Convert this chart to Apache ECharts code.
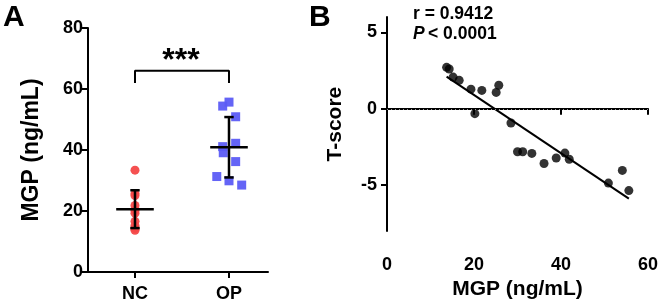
<!DOCTYPE html>
<html>
<head>
<meta charset="utf-8">
<script src="https://cdn.jsdelivr.net/npm/echarts@6/dist/echarts.min.js"></script>
<style>
html, body { margin: 0; padding: 0; background: #fff; }
#chart { width: 661px; height: 305px; }
</style>
</head>
<body>
<div id="chart"></div>
<script>
var chart = echarts.init(document.getElementById('chart'));
var FONT = 'Liberation Sans, Arial, sans-serif';

// panel A: MGP by group (x = group position + small jitter)
var groups = ['NC', 'OP'];
var ncValues = [13.7, 14.3, 15.2, 16.6, 19.3, 20.2, 21.8, 25.1, 25.7, 33.4];
var ncJitter = [0, 0, 0, 0, 0, 0, 0, 0, 0, 0];
var opValues = [54.4, 55.7, 50.9, 41.1, 39.1, 42.2, 36.2, 31.3, 29.9, 28.5];
var opJitter = [-0.067, 0, 0.071, -0.067, -0.061, 0.071, 0.071, -0.13, 0, 0.135];
// mean and SD
var groupMean = [20.6, 40.9];
var groupSD = [6.2, 9.9];

// panel B: T-score vs MGP
var mgp = [13.7, 14.3, 15.2, 16.6, 19.3, 20.2, 21.8, 25.1, 25.7, 28.5,
           30.0, 31.2, 33.3, 36.1, 38.9, 40.9, 41.9, 50.9, 54.1, 55.6];
var tscore = [2.71, 2.6, 2.07, 1.86, 1.28, -0.32, 1.2, 1.07, 1.54, -0.93,
              -2.81, -2.81, -2.92, -3.58, -3.22, -2.9, -3.3, -4.86, -4.03, -5.35];
var fitX = [13.7, 55.6];
var fitY = [2.1, -5.88];
var yTicksB = [-5, 0, 5];

var axisLine = { lineStyle: { color: '#000', width: 2 } };
var axisTick = { length: 6, lineStyle: { color: '#000', width: 2 } };
var labelStyle = { color: '#000', fontFamily: FONT, fontWeight: 'bold', fontSize: 18 };
var nameStyle = { color: '#000', fontFamily: FONT, fontWeight: 'bold', fontSize: 21 };

function errorBar(params, api) {
    var x = api.value(0), m = api.value(1), sd = api.value(2);
    var top = api.coord([x, m + sd]);
    var bot = api.coord([x, m - sd]);
    var c = api.coord([x, m]);
    var capL = api.coord([x - 0.05, m])[0], capR = api.coord([x + 0.05, m])[0];
    var mL = api.coord([x - 0.2, m])[0], mR = api.coord([x + 0.2, m])[0];
    var st = { stroke: '#000', lineWidth: 2.5 };
    return {
        type: 'group',
        children: [
            { type: 'line', shape: { x1: top[0], y1: top[1], x2: bot[0], y2: bot[1] }, style: st },
            { type: 'line', shape: { x1: capL, y1: top[1], x2: capR, y2: top[1] }, style: st },
            { type: 'line', shape: { x1: capL, y1: bot[1], x2: capR, y2: bot[1] }, style: st },
            { type: 'line', shape: { x1: mL, y1: c[1], x2: mR, y2: c[1] }, style: st }
        ]
    };
}

var option = {
    animation: false,
    grid: [
        { left: 88, top: 28, width: 180, height: 244 },
        { left: 387, top: 17, width: 262.6, height: 219 }
    ],
    xAxis: [
        {
            gridIndex: 0, type: 'value', min: 0.5, max: 2.415,
            axisLine: axisLine,
            axisTick: { length: 6, lineStyle: { color: '#000', width: 2 }, customValues: [1, 2] },
            axisLabel: Object.assign({ customValues: [1, 2], margin: 13,
                formatter: function (v) { return groups[Math.round(v) - 1]; } }, labelStyle),
            splitLine: { show: false }
        },
        {
            gridIndex: 1, type: 'value', min: 0, max: 60, interval: 20,
            axisLine: axisLine, axisTick: axisTick,
            axisLabel: Object.assign({ margin: 25 }, labelStyle),
            splitLine: { show: false },
            name: 'MGP (ng/mL)', nameLocation: 'middle', nameGap: 47, nameTextStyle: nameStyle
        }
    ],
    yAxis: [
        {
            gridIndex: 0, type: 'value', min: 0, max: 80, interval: 20,
            axisLine: { show: true, lineStyle: { color: '#000', width: 2 } },
            axisTick: { show: true, length: 6, lineStyle: { color: '#000', width: 2 } },
            axisLabel: Object.assign({ margin: 5 }, labelStyle),
            splitLine: { show: false },
            name: 'MGP (ng/mL)', nameLocation: 'middle', nameGap: 45,
            nameTextStyle: Object.assign({}, nameStyle, { fontSize: 23 })
        },
        {
            gridIndex: 1, type: 'value', min: -8, max: 6,
            axisLine: { show: true, lineStyle: { color: '#000', width: 2 } },
            axisTick: { show: true, length: 6, lineStyle: { color: '#000', width: 2 }, customValues: yTicksB },
            axisLabel: Object.assign({ margin: 10, customValues: yTicksB }, labelStyle),
            splitLine: { show: false },
            name: 'T-score', nameLocation: 'middle', nameGap: 41, nameTextStyle: nameStyle
        }
    ],
    series: [
        {
            type: 'scatter', xAxisIndex: 0, yAxisIndex: 0, symbol: 'circle', symbolSize: 9,
            itemStyle: { color: '#f44848', opacity: 0.95 },
            data: ncValues.map(function (v, i) { return [1 + ncJitter[i], v]; })
        },
        {
            type: 'scatter', xAxisIndex: 0, yAxisIndex: 0, symbol: 'rect', symbolSize: 9,
            itemStyle: { color: '#5c5cf6', opacity: 0.95 },
            data: opValues.map(function (v, i) { return [2 + opJitter[i], v]; })
        },
        {
            type: 'custom', xAxisIndex: 0, yAxisIndex: 0, z: 5,
            renderItem: errorBar,
            data: groupMean.map(function (m, i) { return [i + 1, m, groupSD[i]]; })
        },
        {
            type: 'line', xAxisIndex: 0, yAxisIndex: 0, symbol: 'none',
            lineStyle: { color: '#000', width: 2 },
            data: [[1, 62], [1, 66], [2, 66], [2, 62]]
        },
        {
            type: 'scatter', xAxisIndex: 1, yAxisIndex: 1, symbolSize: 9,
            itemStyle: { color: '#000' },
            data: mgp.map(function (v, i) { return [v, tscore[i]]; }),
            markLine: {
                silent: true, symbol: 'none', label: { show: false },
                lineStyle: { color: '#999', type: [1, 3], width: 1 },
                data: [{ yAxis: 0 }]
            }
        },
        {
            type: 'line', xAxisIndex: 1, yAxisIndex: 1, symbol: 'none',
            lineStyle: { color: '#000', width: 2 },
            data: fitX.map(function (v, i) { return [v, fitY[i]]; })
        }
    ],
    graphic: [
        { type: 'text', left: 3, top: 3, style: { text: 'A', font: 'bold 30px ' + FONT, fill: '#000' } },
        { type: 'text', left: 309, top: 3, style: { text: 'B', font: 'bold 30px ' + FONT, fill: '#000' } },
        { type: 'text', x: 181, y: 61, style: { text: '***', font: 'bold 32px ' + FONT, fill: '#000',
            textAlign: 'center', textVerticalAlign: 'middle' } },
        { type: 'text', x: 413, y: 14, style: { text: 'r = 0.9412', font: 'bold 17.5px ' + FONT, fill: '#000',
            textVerticalAlign: 'middle' } },
        { type: 'text', x: 413, y: 34, style: {
            rich: { i: { fontFamily: FONT, fontWeight: 'bold', fontStyle: 'italic', fontSize: 17.5, fill: '#000' },
                    n: { fontFamily: FONT, fontWeight: 'bold', fontSize: 17.5, fill: '#000' } },
            text: '{i|P} {n|< 0.0001}', textVerticalAlign: 'middle' } }
    ]
};
chart.setOption(option);
</script>
</body>
</html>
